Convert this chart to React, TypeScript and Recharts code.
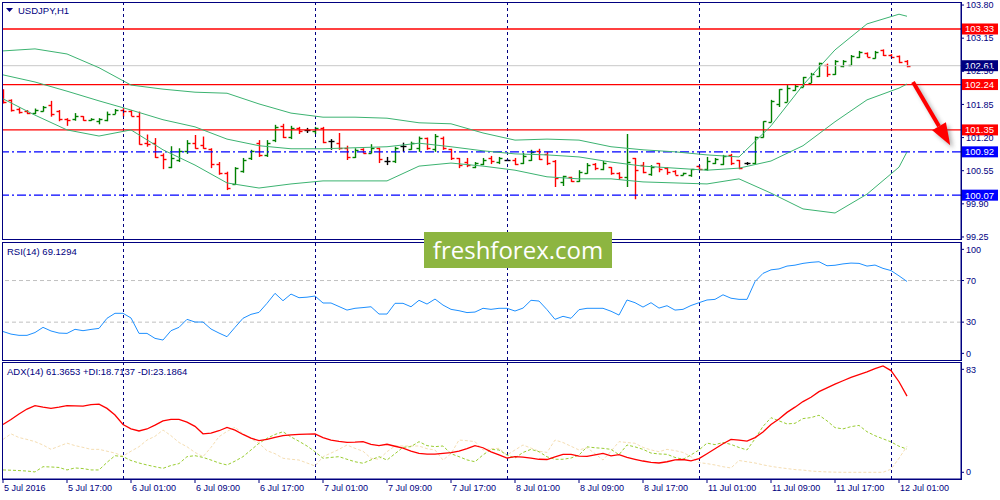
import React from "react"
import { Bar, ComposedChart, Line, ReferenceLine, XAxis, YAxis } from "recharts"

const FONT = "'Liberation Sans', Tahoma, Arial, sans-serif"
const NAVY = "#000080"

// USDJPY H1, first bar = 5 Jul 2016 09:00
const opens = [
  102.05, 101.93, 101.77, 101.72, 101.69, 101.73, 101.83, 101.72, 101.56, 101.56,
  101.62, 101.54, 101.52, 101.55, 101.67, 101.75, 101.73, 101.63, 101.1, 101.09,
  100.86, 100.63, 100.76, 100.93, 101.1, 101.05, 100.98, 100.68, 100.5, 100.29,
  100.55, 100.8, 101.1, 100.86, 101.15, 101.42, 101.22, 101.38, 101.34, 101.32,
  101.38, 101.14, 101.1, 101.0, 100.82, 100.98, 100.9, 101.0, 100.74, 100.74,
  101.04, 100.98, 101.0, 101.2, 100.98, 101.2, 100.98, 100.8, 100.72, 100.62,
  100.68, 100.8, 100.72, 100.76, 100.76, 100.7, 100.76, 100.94, 100.88, 100.74,
  100.32, 100.42, 100.34, 100.5, 100.68, 100.58, 100.62, 100.5, 100.42, 100.8,
  100.66, 100.48, 100.7, 100.6, 100.55, 100.47, 100.46, 100.64, 100.58, 100.7,
  100.68, 100.86, 100.76, 100.7, 100.7, 101.22, 101.5, 101.86, 101.9, 102.14,
  102.2, 102.28, 102.4, 102.62, 102.44, 102.6, 102.62, 102.78, 102.86, 102.77,
  102.92, 102.82, 102.8, 102.7,
]
const highs = [
  102.15, 101.95, 101.79, 101.74, 101.77, 101.82, 101.92, 101.74, 101.58, 101.68,
  101.62, 101.58, 101.58, 101.71, 101.76, 101.78, 101.74, 101.71, 101.26, 101.19,
  100.89, 101.03, 100.99, 101.15, 101.25, 101.22, 100.99, 100.72, 100.53, 100.62,
  100.8, 100.96, 101.15, 101.15, 101.45, 101.47, 101.43, 101.41, 101.39, 101.41,
  101.41, 101.17, 101.29, 101.04, 100.99, 100.99, 101.07, 101.0, 100.82, 101.02,
  101.1, 101.12, 101.22, 101.2, 101.27, 101.22, 100.98, 100.8, 100.8, 100.72,
  100.8, 100.84, 100.82, 100.78, 100.8, 100.9, 100.96, 100.98, 100.92, 100.76,
  100.45, 100.43, 100.56, 100.7, 100.7, 100.74, 100.62, 100.52, 101.27, 100.8,
  100.72, 100.66, 100.7, 100.62, 100.56, 100.51, 100.58, 100.66, 100.82, 100.8,
  100.86, 100.88, 100.76, 100.72, 101.22, 101.52, 101.94, 102.15, 102.23, 102.24,
  102.39, 102.47, 102.67, 102.65, 102.72, 102.72, 102.82, 102.9, 102.87, 102.9,
  102.93, 102.84, 102.81, 102.72,
]
const lows = [
  101.87, 101.71, 101.67, 101.66, 101.66, 101.71, 101.61, 101.52, 101.43, 101.53,
  101.53, 101.53, 101.46, 101.52, 101.66, 101.61, 101.62, 101.06, 101.02, 100.8,
  100.58, 100.6, 100.72, 100.88, 100.98, 100.98, 100.6, 100.47, 100.17, 100.27,
  100.51, 100.76, 100.82, 100.82, 101.11, 101.19, 101.17, 101.27, 101.29, 101.27,
  101.09, 100.96, 100.96, 100.76, 100.8, 100.89, 100.89, 100.7, 100.66, 100.7,
  100.92, 100.96, 100.92, 100.96, 100.92, 100.96, 100.76, 100.6, 100.62, 100.6,
  100.66, 100.68, 100.68, 100.74, 100.66, 100.68, 100.74, 100.76, 100.66, 100.23,
  100.25, 100.33, 100.33, 100.49, 100.56, 100.56, 100.47, 100.37, 100.23, 99.99,
  100.5, 100.45, 100.52, 100.47, 100.47, 100.46, 100.43, 100.56, 100.55, 100.68,
  100.66, 100.66, 100.58, 100.66, 100.68, 101.2, 101.5, 101.8, 101.9, 102.12,
  102.19, 102.27, 102.39, 102.39, 102.43, 102.58, 102.62, 102.76, 102.78, 102.75,
  102.8, 102.76, 102.66, 102.58,
]
const closes = [
  101.9, 101.74, 101.7, 101.68, 101.74, 101.8, 101.66, 101.56, 101.55, 101.63,
  101.55, 101.56, 101.56, 101.66, 101.74, 101.72, 101.63, 101.07, 101.08, 100.81,
  100.77, 100.8, 100.93, 101.1, 101.0, 101.0, 100.68, 100.5, 100.22, 100.6,
  100.76, 100.93, 100.86, 101.1, 101.4, 101.22, 101.38, 101.32, 101.34, 101.38,
  101.12, 101.14, 100.99, 100.82, 100.96, 100.9, 101.0, 100.77, 100.74, 101.0,
  101.04, 101.1, 101.2, 101.0, 101.24, 101.0, 100.8, 100.66, 100.66, 100.7,
  100.76, 100.74, 100.8, 100.76, 100.68, 100.84, 100.92, 100.78, 100.7, 100.4,
  100.44, 100.35, 100.52, 100.66, 100.6, 100.7, 100.5, 100.42, 100.73, 100.56,
  100.52, 100.62, 100.58, 100.52, 100.47, 100.5, 100.58, 100.58, 100.74, 100.78,
  100.84, 100.7, 100.6, 100.7, 101.22, 101.52, 101.92, 102.15, 102.18, 102.22,
  102.38, 102.44, 102.66, 102.44, 102.7, 102.7, 102.8, 102.88, 102.79, 102.88,
  102.82, 102.78, 102.68, 102.61,
]

// Bollinger bands read every 4 bars
const bandIdx = [0, 4, 8, 12, 16, 20, 24, 28, 32, 36, 40, 44, 48, 52, 56, 60, 64, 68, 72, 76, 80, 84, 88, 92, 96, 100, 104, 108, 112, 113]
const bbUpper = [
  102.9, 102.94, 102.84, 102.57, 102.23, 102.15, 102.09, 102.07, 101.86, 101.68,
  101.6, 101.6, 101.58, 101.49, 101.47, 101.29, 101.15, 101.17, 101.15, 101.02,
  100.96, 100.92, 100.86, 100.82, 101.43, 102.23, 102.92, 103.43, 103.62, 103.58,
]
const bbMiddle = [
  102.43, 102.29, 102.11, 101.92, 101.74, 101.55, 101.41, 101.17, 101.04, 100.98,
  100.98, 101.0, 101.02, 101.09, 101.02, 100.94, 100.88, 100.86, 100.82, 100.72,
  100.64, 100.6, 100.56, 100.6, 100.74, 101.04, 101.51, 101.94, 102.17, 102.25,
]
const bbLower = [
  101.96, 101.64, 101.35, 101.23, 101.35, 100.96, 100.66, 100.31, 100.21, 100.29,
  100.35, 100.35, 100.35, 100.64, 100.7, 100.64, 100.56, 100.43, 100.39, 100.39,
  100.33, 100.31, 100.29, 100.39, 100.11, 99.8, 99.72, 100.09, 100.62, 100.92,
]

const rsi = [
  21, 18.5, 17.3, 17.3, 20, 25, 21.5, 19.5, 19.2, 23.1,
  21.8, 23, 24, 33.7, 38.5, 38.5, 34, 19.2, 19.2, 14.4,
  12.8, 21.8, 25, 32.7, 30.1, 30.1, 23.4, 19.5, 16, 25,
  33.7, 37.5, 39.4, 48.1, 57.7, 50.6, 57, 53.5, 54, 55.1,
  48.4, 48.4, 45, 41.6, 43.3, 44, 44.8, 37.8, 37.8, 48.1,
  48.1, 44.8, 51, 47.4, 52.2, 46.4, 42.3, 41, 39.2, 39.7,
  43.3, 42.3, 43.3, 43.3, 40.7, 43.5, 51, 50.3, 42, 32.7,
  35.6, 33.7, 42, 43.3, 43.3, 43.3, 40.5, 36.8, 51.3, 48.7,
  44.5, 48.7, 43.5, 45.8, 41.6, 42.3, 46, 48.7, 51.3, 51.9,
  56.3, 53, 51.9, 51.9, 69, 76.9, 80.3, 81.2, 83.9, 84.8,
  86.5, 87.5, 88.1, 84.2, 84.7, 86, 86.8, 86.5, 83.9, 84.9,
  81.7, 79.6, 74.5, 69.1,
]

const adx = [
  38.5, 42.5, 47, 51, 53.7, 52.5, 51.6, 52.5, 53.7, 53.5,
  53.4, 54.5, 55, 51.5, 46.2, 38.5, 35, 33.3, 34.9, 38,
  41.5, 42.7, 42.7, 40.5, 37, 31, 31.5, 33.5, 36.2, 34,
  30.5, 27.5, 25.5, 26.5, 28.2, 29.5, 30.1, 30.5, 30.7, 30.9,
  28, 26, 25, 24.2, 24.3, 24.7, 22.5, 21.5, 22.6, 21,
  19.5, 17, 15.2, 14.6, 14.7, 15.2, 15.8, 17, 19, 21.5,
  19.8, 16.5, 14, 11.5, 12.6, 12.2, 11.5, 10.5, 10.3, 12.5,
  14.5, 14.5, 13, 12.8, 14, 15.2, 13.2, 14.3, 12, 10.5,
  9.1, 8, 7.5, 8.5, 10, 10.3, 9.2, 11, 15, 19,
  23, 26.5, 26, 25.2, 28, 32.5, 38.5, 43, 48.3, 52.5,
  57, 60.5, 65, 68, 71, 73.8, 76.5, 78.8, 81, 83.5,
  85.7, 82, 73, 61.4,
]
const plusDI = [
  1.9, 1.7, 1.4, 1.0, 0.3, 4.5, 4.3, 3.9, 1.9, 3.5,
  3.0, 1.9, 1.9, 8, 13.4, 12.6, 9.5, 7.5, 5.9, 4.5,
  3.2, 5.5, 7, 12.6, 13.4, 12, 9.9, 7.5, 5.9, 9,
  12.6, 18, 23.4, 27.4, 30.5, 32.7, 28.5, 25, 21.2, 16.6,
  11.3, 12, 12.6, 10.5, 8.5, 7.3, 10, 12.6, 9.9, 15,
  20.1, 20.7, 24.7, 21.5, 20.7, 21.2, 15, 12.6, 10, 8.5,
  14, 18.5, 18, 13.9, 11.5, 16, 18.5, 16.6, 12.5, 10.5,
  10.5, 11.5, 13.9, 20.5, 19.8, 19.3, 18.5, 14.2, 22, 20.5,
  18.5, 15.5, 14.8, 14.5, 12, 10.5, 14, 18, 23.5, 22.3,
  24, 22.5, 20, 18, 27, 37, 44, 41.5, 39, 39.5,
  43.3, 44.1, 46, 41.5, 36, 35, 36.8, 37.8, 32.7, 29.5,
  27, 24.5, 21, 18.7,
]
const minusDI = [
  26.5, 31, 28, 26.5, 24.7, 22, 18.5, 21, 23.5, 21.5,
  20.1, 18.5, 18.5, 17, 15.5, 13.1, 17, 20.6, 26, 29,
  34.1, 29.5, 24, 20.6, 16, 12.6, 20.1, 28.7, 33, 36.3,
  31, 27, 23.4, 17.4, 15, 11.3, 10.5, 9.9, 7.5, 5.1,
  12.6, 15.5, 18.5, 22, 19.3, 17, 11.3, 10.5, 16.6, 21.2,
  21.2, 21.2, 21.2, 19, 18, 9.9, 15, 26, 25.5, 24.7,
  18, 19, 19.3, 13.9, 18, 22, 19.5, 17, 16, 26,
  24, 21, 18, 19.8, 15, 9.9, 17, 24.7, 24, 23.4,
  20.1, 18, 16.6, 18.5, 17.5, 16, 12.6, 7.8, 7, 5.9,
  4.5, 3.5, 9.5, 8.5, 7.5, 6, 4.8, 3.8, 3, 2.2,
  1.8, 1, 0.6, 0.3, 0.1, 0, 0, 0, 0, 0,
  0, 2.5, 11.3, 21,
]

// time axis: a label every 8 bars
const labelIdx = [0, 8, 16, 24, 32, 40, 48, 56, 64, 72, 80, 88, 96, 104, 112]
const timeLabels = [
  "5 Jul 2016", "5 Jul 17:00", "6 Jul 01:00", "6 Jul 09:00", "6 Jul 17:00",
  "7 Jul 01:00", "7 Jul 09:00", "7 Jul 17:00", "8 Jul 01:00", "8 Jul 09:00",
  "8 Jul 17:00", "11 Jul 01:00", "11 Jul 09:00", "11 Jul 17:00", "12 Jul 01:00",
]
const dayStarts = [15, 39, 63, 87, 111]

const priceTicks = [99.25, 99.9, 100.55, 101.2, 101.85, 102.5, 103.15, 103.8]
const redLevels = [103.33, 102.24, 101.35]
const blueLevels = [100.92, 100.07]
const lastPrice = 102.61
const rsiTicks = [0, 30, 70, 100]
const rsiLevels = [30, 70]
const adxTicks = [0, 83]
const arrowFrom = { i: 113.75, p: 102.29 }
const arrowTo = { i: 118.4, p: 101.05 }

const X_DOMAIN = [0, 119.75]

const rows = opens.map((o, i) => {
  const b = bandIdx.indexOf(i)
  return {
    i,
    range: [lows[i], highs[i]],
    open: o,
    high: highs[i],
    low: lows[i],
    close: closes[i],
    upper: b >= 0 ? bbUpper[b] : null,
    middle: b >= 0 ? bbMiddle[b] : null,
    lower: b >= 0 ? bbLower[b] : null,
    rsi: rsi[i],
    adx: adx[i],
    pdi: plusDI[i],
    mdi: minusDI[i],
  }
})

function OhlcShape(props: any) {
  const { x, y, width, height, payload } = props
  if (x == null || y == null) return null
  const top = Math.min(y, y + height)
  const h = Math.max(Math.abs(height), 1)
  const cx = Math.round(x + width / 2) + 0.5
  const span = payload.high - payload.low || 1
  const yOpen = Math.round(top + ((payload.high - payload.open) / span) * h) + 0.5
  const yClose = Math.round(top + ((payload.high - payload.close) / span) * h) + 0.5
  const color = payload.close > payload.open ? "#008000" : payload.close < payload.open ? "#ff0000" : "#000000"
  return (
    <g stroke={color} strokeWidth={1.4}>
      <line x1={cx} x2={cx} y1={top} y2={top + h} />
      <line x1={cx - 3} x2={cx} y1={yOpen} y2={yOpen} />
      <line x1={cx} x2={cx + 3} y1={yClose} y2={yClose} />
    </g>
  )
}

const priceTag = (value: number, bg: string) => (props: any) => {
  const vb = props.viewBox
  const x = vb.x + vb.width + 1
  const y = vb.y
  return (
    <g>
      <rect x={x} y={y - 5.5} width={36} height={11} fill={bg} />
      <text x={x + 3} y={y} dy="0.36em" fill="#ffffff" fontSize={9.5} fontFamily={FONT}>
        {value.toFixed(2)}
      </text>
    </g>
  )
}

function ArrowShape(props: any) {
  const { x1, y1, x2, y2 } = props
  if (x1 == null) return null
  const ang = Math.atan2(y2 - y1, x2 - x1)
  const head = 22
  const half = 8
  const bx = x2 - head * Math.cos(ang)
  const by = y2 - head * Math.sin(ang)
  const nx = -Math.sin(ang) * half
  const ny = Math.cos(ang) * half
  const pts = `${x2},${y2} ${bx + nx},${by + ny} ${bx - nx},${by - ny}`
  return (
    <g>
      <defs>
        <filter id="arrowBlur" x="-50%" y="-50%" width="200%" height="200%">
          <feGaussianBlur stdDeviation="2" />
        </filter>
      </defs>
      <g transform="translate(3,3)" opacity={0.45} filter="url(#arrowBlur)">
        <line x1={x1} y1={y1} x2={bx} y2={by} stroke="#555" strokeWidth={4} />
        <polygon points={pts} fill="#555" />
      </g>
      <line x1={x1} y1={y1} x2={bx} y2={by} stroke="#ff0000" strokeWidth={4} />
      <polygon points={pts} fill="#ff0000" />
    </g>
  )
}

// pixel-snapped dashed separator so it stays a crisp 1px navy line
function SeparatorShape(props: any) {
  const { x1, y1, x2, y2 } = props
  if (x1 == null) return null
  const x = Math.round(x1) + 0.5
  return <line x1={x} x2={Math.round(x2) + 0.5} y1={y1} y2={y2} stroke={NAVY} strokeWidth={1} strokeDasharray="3 3" />
}

function TimeTick(props: any) {
  const { x, y, payload } = props
  const k = labelIdx.indexOf(payload.value)
  return (
    <text x={x + 1} y={y} dy="0.71em" fill={NAVY} fontSize={9} fontFamily={FONT} textAnchor="start">
      {k >= 0 ? timeLabels[k] : ""}
    </text>
  )
}

const axisTick = { fill: NAVY, fontSize: 9, fontFamily: FONT }

const daySeparators = () =>
  dayStarts.map((d) => <ReferenceLine key={`d${d}`} x={d} shape={SeparatorShape} />)

const frame = (top: number, height: number) => (
  <div
    style={{
      position: "absolute",
      left: 2,
      top,
      width: 960,
      height,
      border: `1px solid ${NAVY}`,
      boxSizing: "border-box",
      pointerEvents: "none",
    }}
  />
)

const header = (text: string, top: number, left: number) => (
  <div
    style={{
      position: "absolute",
      left,
      top,
      fontFamily: FONT,
      fontSize: 9.5,
      color: NAVY,
      lineHeight: "12px",
      whiteSpace: "nowrap",
    }}
  >
    {text}
  </div>
)

export default function App() {
  return (
    <div style={{ position: "fixed", left: 0, top: 0, width: 1000, height: 500, background: "#ffffff", overflow: "hidden" }}>
      {/* price panel */}
      <div style={{ position: "absolute", left: 0, top: 0 }}>
        <ComposedChart width={1000} height={242} data={rows} margin={{ top: 3, right: 0, bottom: 3, left: 3 }}>
          <XAxis type="number" dataKey="i" domain={X_DOMAIN} hide allowDataOverflow />
          <YAxis
            orientation="right"
            width={39}
            domain={[99.21, 103.84]}
            ticks={priceTicks}
            interval={0}
            allowDataOverflow
            tick={axisTick}
            tickSize={3}
            tickLine={{ stroke: NAVY }}
            axisLine={{ stroke: NAVY }}
            tickFormatter={(v: number) => v.toFixed(2)}
          />
          {daySeparators()}
          <ReferenceLine y={lastPrice} stroke="#c8c8c8" strokeWidth={1} label={priceTag(lastPrice, NAVY)} />
          {redLevels.map((v) => (
            <ReferenceLine key={`r${v}`} y={v} stroke="#ff0000" strokeWidth={1.3} label={priceTag(v, "#ff0000")} />
          ))}
          {blueLevels.map((v) => (
            <ReferenceLine
              key={`b${v}`}
              y={v}
              stroke="#0000ff"
              strokeWidth={1.3}
              strokeDasharray="9 3 2 3"
              label={priceTag(v, "#0000ff")}
            />
          ))}
          <Line dataKey="upper" stroke="#3cb371" strokeWidth={1} dot={false} connectNulls isAnimationActive={false} />
          <Line dataKey="middle" stroke="#3cb371" strokeWidth={1} dot={false} connectNulls isAnimationActive={false} />
          <Line dataKey="lower" stroke="#3cb371" strokeWidth={1} dot={false} connectNulls isAnimationActive={false} />
          <Bar dataKey="range" barSize={6} shape={OhlcShape} isAnimationActive={false} />
          <ReferenceLine
            segment={[
              { x: arrowFrom.i, y: arrowFrom.p },
              { x: arrowTo.i, y: arrowTo.p },
            ]}
            shape={ArrowShape}
          />
        </ComposedChart>
      </div>

      {/* RSI panel */}
      <div style={{ position: "absolute", left: 0, top: 241 }}>
        <ComposedChart width={1000} height={120} data={rows} margin={{ top: 2, right: 0, bottom: 1, left: 3 }}>
          <XAxis type="number" dataKey="i" domain={X_DOMAIN} hide allowDataOverflow />
          <YAxis
            orientation="right"
            width={39}
            domain={[-6.4, 106.1]}
            ticks={rsiTicks}
            interval={0}
            allowDataOverflow
            tick={axisTick}
            tickSize={3}
            tickLine={{ stroke: NAVY }}
            axisLine={{ stroke: NAVY }}
          />
          {rsiLevels.map((v) => (
            <ReferenceLine key={`l${v}`} y={v} stroke="#c0c0c0" strokeDasharray="4 3" />
          ))}
          {daySeparators()}
          <Line dataKey="rsi" stroke="#1e90ff" strokeWidth={1} dot={false} isAnimationActive={false} />
        </ComposedChart>
      </div>

      {/* ADX panel */}
      <div style={{ position: "absolute", left: 0, top: 360 }}>
        <ComposedChart width={1000} height={140} data={rows} margin={{ top: 3, right: 0, bottom: 0, left: 3 }}>
          <XAxis
            type="number"
            dataKey="i"
            domain={X_DOMAIN}
            allowDataOverflow
            ticks={labelIdx}
            interval={0}
            height={21}
            tick={<TimeTick />}
            tickSize={4}
            tickLine={{ stroke: NAVY }}
            axisLine={{ stroke: NAVY }}
          />
          <YAxis
            orientation="right"
            width={39}
            domain={[-5.4, 88.1]}
            ticks={adxTicks}
            interval={0}
            allowDataOverflow
            tick={axisTick}
            tickSize={3}
            tickLine={{ stroke: NAVY }}
            axisLine={{ stroke: NAVY }}
          />
          {daySeparators()}
          <Line dataKey="mdi" stroke="#f5deb3" strokeWidth={1} strokeDasharray="3 2" dot={false} isAnimationActive={false} />
          <Line dataKey="pdi" stroke="#9acd32" strokeWidth={1} strokeDasharray="3 2" dot={false} isAnimationActive={false} />
          <Line dataKey="adx" stroke="#ff0000" strokeWidth={1.3} dot={false} isAnimationActive={false} />
        </ComposedChart>
      </div>

      {frame(2, 238)}
      {frame(242, 119)}
      {frame(362, 118)}

      {/* chart title with the little menu triangle */}
      <svg style={{ position: "absolute", left: 6, top: 8 }} width={8} height={6}>
        <polygon points="0,0 7,0 3.5,4" fill={NAVY} />
      </svg>
      {header("USDJPY,H1", 5, 18)}
      {header("RSI(14) 69.1294", 246, 7)}
      {header("ADX(14) 61.3653 +DI:18.7137 -DI:23.1864", 366, 7)}

      {/* watermark */}
      <div
        style={{
          position: "absolute",
          left: 424,
          top: 232,
          width: 188,
          height: 36,
          background: "#8db541",
          color: "#ffffff",
          fontFamily: "'Open Sans', 'Noto Sans', sans-serif",
          fontSize: 24,
          lineHeight: "36px",
          textAlign: "center",
        }}
      >
        freshforex.com
      </div>
    </div>
  )
}
